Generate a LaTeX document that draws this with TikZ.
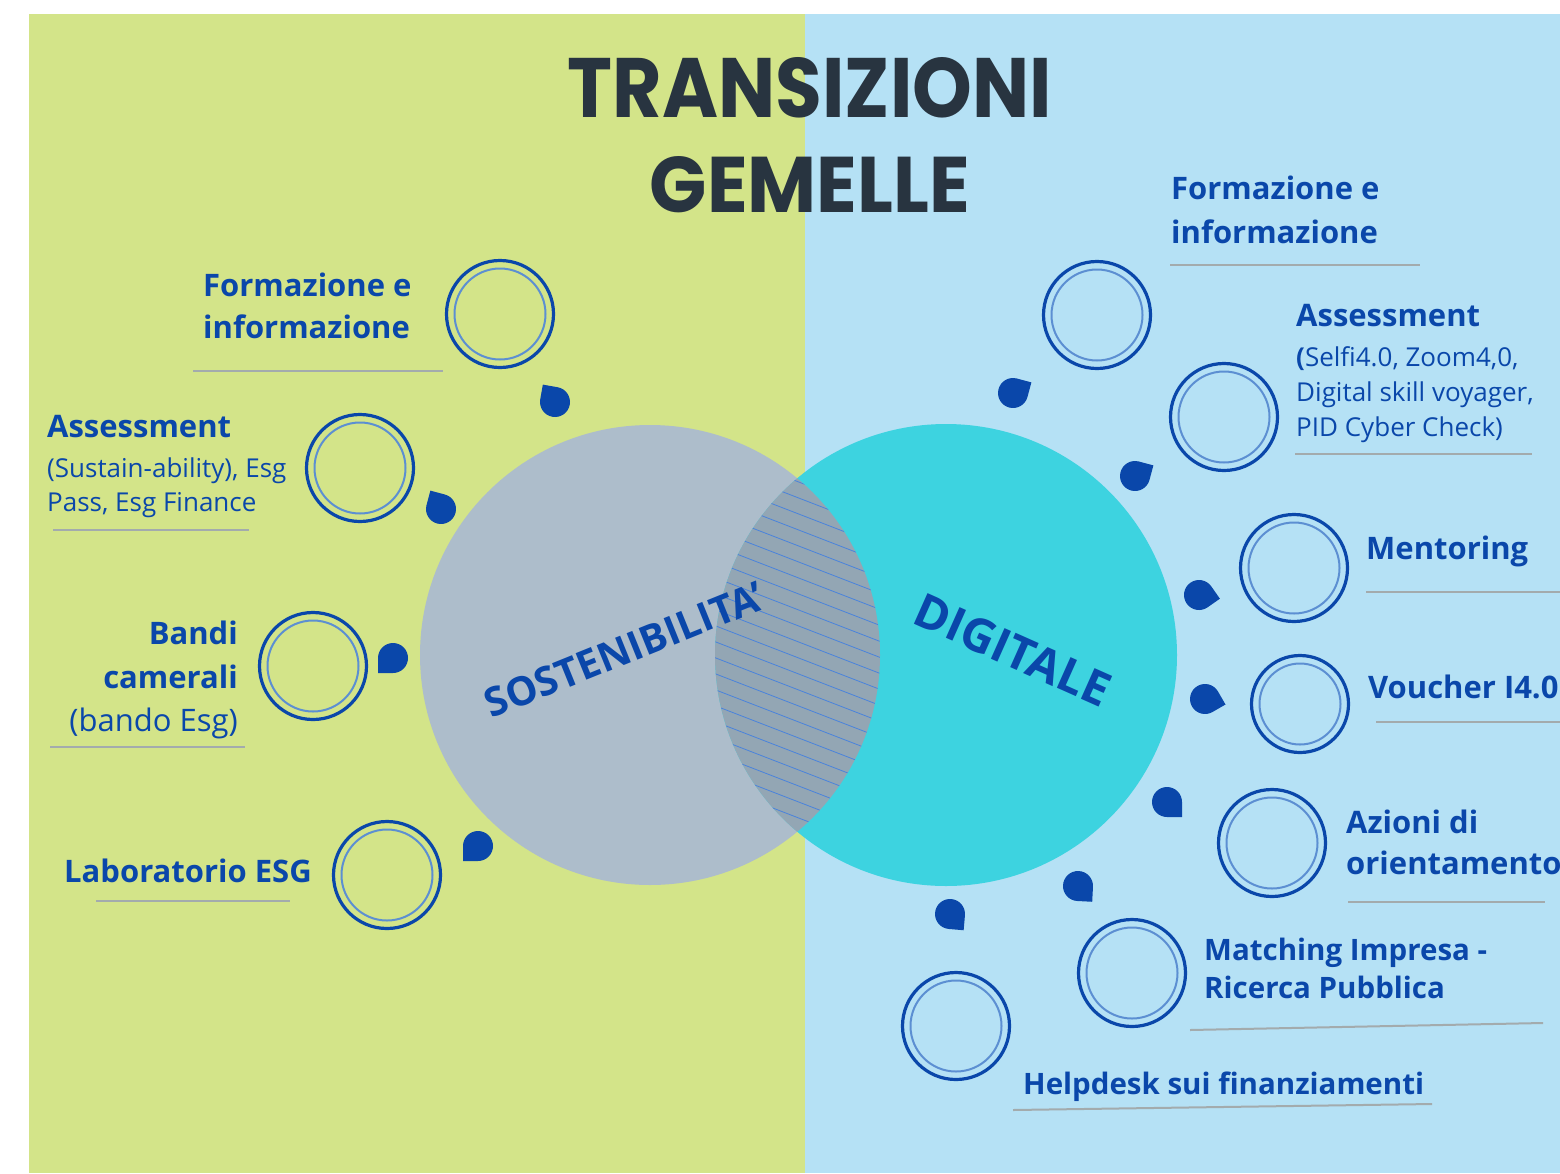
\documentclass[tikz,border=0pt]{standalone}
\usepackage{fontspec}
\setmainfont{Open Sans}
\newfontfamily\titlefont{Poppins}
\definecolor{bggreen}{HTML}{D3E489}
\definecolor{bgblue}{HTML}{B5E1F5}
\definecolor{dblue}{HTML}{0A47AA}
\definecolor{lblue}{HTML}{5C8FD2}
\definecolor{venngray}{HTML}{ADBDCB}
\definecolor{venncyan}{HTML}{3DD3E0}
\definecolor{lensgray}{HTML}{93A6B4}
\definecolor{hatchc}{HTML}{4A83DC}
\definecolor{titlec}{HTML}{283440}
\definecolor{ulgray}{HTML}{A3ABAD}
\newcommand\droplet[3]{%
  \fill[dblue] (#1) ++({#2+45}:#3) arc[start angle={#2+45}, end angle={#2+315}, radius=#3] -- ++({#2+45}:#3) -- cycle;}
\begin{document}
\begin{tikzpicture}[x=1pt,y=-1pt,
  ring/.style={circle, draw=dblue, line width=3.2pt, minimum size=107pt, inner sep=0pt,
    path picture={\draw[lblue, line width=2pt] (path picture bounding box.center) circle[radius=45.5pt];}},
  smallring/.style={circle, draw=dblue, line width=3.2pt, minimum size=97pt, inner sep=0pt,
    path picture={\draw[lblue, line width=2pt] (path picture bounding box.center) circle[radius=40.5pt];}},
  lab/.style={inner sep=0pt, text=dblue, font=\fontsize{31}{36}\selectfont\bfseries},
  labs/.style={inner sep=0pt, text=dblue, font=\fontsize{29.5}{36}\selectfont\bfseries},
  sub/.style={inner sep=0pt, text=dblue, font=\fontsize{26}{32}\selectfont},
  subbig/.style={inner sep=0pt, text=dblue, font=\fontsize{31}{36}\selectfont},
  uline/.style={draw=ulgray, line width=2pt},
  bigtitle/.style={inner sep=0pt, text=titlec, font=\titlefont\bfseries},
  venn/.style={circle, inner sep=0pt}
]
\useasboundingbox (0,0) rectangle (1560,1173);
\clip (0,0) rectangle (1560,1173);
\fill[white] (0,0) rectangle (1560,1173);
\fill[bggreen] (29,14) rectangle (805,1173);
\fill[bgblue] (805,14) rectangle (1560,1173);

% title
\node[bigtitle] (t1) at (810,88) {\resizebox{484pt}{60pt}{TRANSIZIONI}};
\node[bigtitle] (t2) at (810,185) {\resizebox{320pt}{56pt}{GEMELLE}};

% Venn
\node[venn, fill=venngray, minimum size=460pt] (sost) at (650,655) {};
\node[venn, fill=venncyan, minimum size=462pt] (digi) at (946,655) {};
\begin{scope}
  \clip (650,655) circle[radius=230];
  \clip (946,655) circle[radius=231];
  \fill[lensgray] (700,400) rectangle (900,900);
  \foreach \k in {0,...,36} \draw[hatchc, line width=0.8pt] (690,{360+16*\k}) -- ++(220,85);
\end{scope}
\node[rotate=22, text=dblue, font=\fontsize{40}{42}\selectfont\bfseries, inner sep=0pt] (sostlab) at (624,650) {SOSTENIBILITA'};
\node[rotate=-24, text=dblue, font=\fontsize{47}{48}\selectfont\bfseries, inner sep=0pt] (digilab) at (1013,650) {DIGITALE};

% left side
\node[lab, anchor=base west] (l1a) at (203,296) {Formazione e};
\node[lab, anchor=base west] (l1b) at (203,338) {informazione};
\draw[uline] (193,371) -- (443,371);
\node[ring] (c1) at (500,314) {};
\droplet{555,402}{235}{15}

\node[lab, anchor=base west] (l2a) at (47,437) {Assessment};
\node[sub, anchor=base west] (l2b) at (47,477) {(Sustain-ability), Esg};
\node[sub, anchor=base west] (l2c) at (47,511) {Pass, Esg Finance};
\draw[uline] (53,530) -- (249,530);
\node[ring] (c2) at (360,468) {};
\droplet{441,509}{240}{15}

\node[lab, anchor=base east] (l3a) at (238,644) {Bandi};
\node[lab, anchor=base east] (l3b) at (238,688) {camerali};
\node[subbig, anchor=base east] (l3c) at (238,731) {(bando Esg)};
\draw[uline] (50,747) -- (245,747);
\node[ring] (c3) at (313,666) {};
\droplet{393,658}{135}{15}

\node[lab, anchor=base west] (l4) at (64,882) {Laboratorio ESG};
\draw[uline] (96,901) -- (290,901);
\node[ring] (c4) at (387,875) {};
\droplet{478,846}{135}{15}

% right side
\node[lab, anchor=base west] (r1a) at (1171,199) {Formazione e};
\node[lab, anchor=base west] (r1b) at (1171,243) {informazione};
\draw[uline] (1170,265) -- (1420,265);
\node[ring] (d1) at (1097,315) {};
\droplet{1013,393}{330}{15}

\node[lab, anchor=base west] (r2a) at (1296,326) {Assessment};
\node[sub, anchor=base west] (r2b) at (1296,366) {{\bfseries(}Selfi4.0, Zoom4,0,};
\node[sub, anchor=base west] (r2c) at (1296,401) {Digital skill voyager,};
\node[sub, anchor=base west] (r2d) at (1296,436) {PID Cyber Check)};
\draw[uline] (1295,454) -- (1532,454);
\node[ring] (d2) at (1224,417) {};
\droplet{1135,476}{330}{15}

\node[lab, anchor=base west] (r3) at (1366,559) {Mentoring};
\draw[uline] (1366,592) -- (1560,592);
\node[ring] (d3) at (1294,568) {};
\droplet{1199,595}{10}{15}

\node[lab, anchor=base west] (r4) at (1368,698) {Voucher I4.0};
\draw[uline] (1376,722) -- (1560,722);
\node[smallring] (d4) at (1300,704) {};
\droplet{1205,699}{15}{15}

\node[lab, anchor=base west] (r5a) at (1346,833) {Azioni di};
\node[lab, anchor=base west] (r5b) at (1346,874) {orientamento};
\draw[uline] (1348,902) -- (1545,902);
\node[ring] (d5) at (1272,843) {};
\droplet{1167,802}{45}{15}

\node[labs, anchor=base west] (r6a) at (1204,960) {Matching Impresa -};
\node[labs, anchor=base west] (r6b) at (1204,998) {Ricerca Pubblica};
\draw[uline] (1190,1030) -- (1543,1023);
\node[ring] (d6) at (1132,973) {};
\droplet{1078,886}{48}{15}

\node[labs, anchor=base west] (r7) at (1023,1094) {Helpdesk sui finanziamenti};
\draw[uline] (1013,1110) -- (1432,1104);
\node[ring] (d7) at (956,1026) {};
\droplet{950,914}{50}{15}
\end{tikzpicture}
\end{document}
